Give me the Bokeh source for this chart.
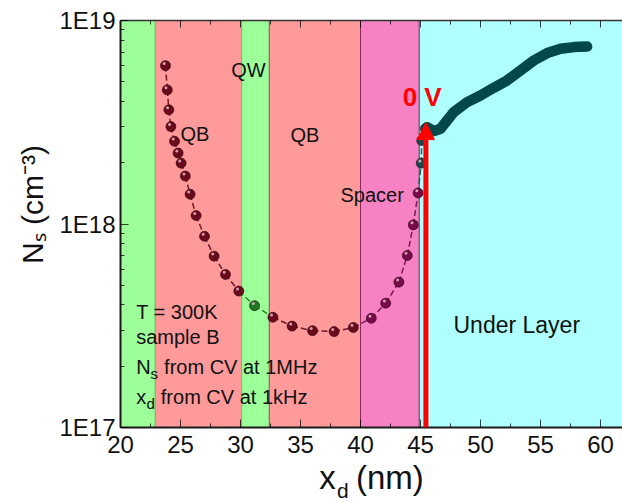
import math
from bokeh.plotting import figure
from bokeh.models import (Range1d, FixedTicker, LinearAxis, Label, Arrow, NormalHead,
                          CustomJSTickFormatter)
from bokeh.embed import file_html
from bokeh.resources import INLINE

# ---------------- data ----------------
region_names = ["barrier", "QB", "QW", "QB", "Spacer", "Under Layer"]
region_start = [19.0, 22.9, 30.1, 32.4, 40.0, 44.9]
region_end = [22.9, 30.1, 32.4, 40.0, 44.9, 63.0]

# C-V profile points (depletion depth nm, carrier density cm^-3)
xd_cv = [23.75, 23.9, 24.03, 24.2, 24.5, 24.8, 25.05, 25.4, 25.8, 26.3, 27.0, 27.8,
         28.75, 29.86, 31.17, 32.7, 34.3, 36.0, 37.8, 39.4, 40.9, 42.1, 43.2, 43.9,
         44.4, 44.8, 45.06, 45.1, 45.4]
ns_cv = [6.0e18, 4.56e18, 3.64e18, 3.01e18, 2.55e18, 2.23e18, 1.99e18, 1.72e18,
         1.40e18, 1.10e18, 8.7e17, 6.95e17, 5.65e17, 4.68e17, 3.97e17, 3.48e17,
         3.15e17, 2.99e17, 2.96e17, 3.10e17, 3.44e17, 4.08e17, 5.18e17, 7.0e17,
         9.9e17, 1.42e18, 1.99e18, 2.57e18, 2.94e18]

# dense profile in the under layer
xd_ul = [45.56, 46.11, 46.67, 47.22, 47.78, 48.89, 50.0, 51.1, 52.2, 53.33, 54.44,
         55.56, 56.67, 57.78, 58.89]
ns_ul = [2.99e18, 2.86e18, 2.94e18, 3.23e18, 3.55e18, 3.97e18, 4.28e18, 4.67e18,
         5.07e18, 5.68e18, 6.36e18, 6.92e18, 7.26e18, 7.40e18, 7.45e18]

arrow_xd = 45.45
arrow_ns = 3.15e18

x_ticks = [20, 25, 30, 35, 40, 45, 50, 55, 60]
x_minor = [22.5, 27.5, 32.5, 37.5, 42.5, 47.5, 52.5, 57.5, 62.5]
y_ticks = [1e17, 1e18, 1e19]
y_minor = [k * 10.0 ** e for e in (17, 18) for k in range(2, 10)]

# ---------------- styles ----------------
region_fill = ["#9cff99", "#ff9a9a", "#9cff99", "#ff9a9a", "#f682c3", "#b0ffff"]
region_edge = ["#5cc95c", "#5cc95c", "#5cc95c", "#b04a6a", "#8a2a5a", "#2f6f70"]
pt_color = ["#6a0a1c", "#6a0a1c", "#1f7a22", "#6a0a1c", "#780a4c", "#174c4e"]
ln_color = ["#6a1a2c", "#6a1a2c", "#2a8a2a", "#6a1a2c", "#7a1a58", "#1f5a5a"]

FONT = "Liberation Sans"
W, H = 622, 502
FL, FT, FB = 120, 20, 427   # frame left / top / bottom in pixels
MID = 0.35                  # middle of text box above the baseline, in em


def region_of(x):
    for i, (a, b) in enumerate(zip(region_start, region_end)):
        if a <= x < b:
            return i
    return len(region_start) - 1


# pixel -> data helpers (text placement only)
def dx(px):
    return 20 + (px - FL) / 12.0


def dy(py):
    return 10 ** (19 - (py - FT) * 2.0 / (FB - FT))


p = figure(width=W, height=H, x_range=Range1d(20, dx(W)), y_range=Range1d(1e17, 1e19),
           y_axis_type="log", output_backend="svg", toolbar_location=None,
           min_border_left=FL, min_border_right=0, min_border_top=FT,
           min_border_bottom=H - FB)
p.outline_line_color = None
p.grid.visible = False
p.background_fill_color = "white"
p.border_fill_color = "white"

# regions
p.quad(left=region_start, right=region_end, bottom=[1e16] * len(region_start),
       top=[1e20] * len(region_start), fill_color=region_fill, line_color=region_edge,
       line_width=1)

# dashed connecting line, coloured per region
segs_x, segs_y, segs_c = [], [], []
for i in range(len(xd_cv) - 1):
    segs_x.append([xd_cv[i], xd_cv[i + 1]])
    segs_y.append([ns_cv[i], ns_cv[i + 1]])
    segs_c.append(ln_color[region_of(0.5 * (xd_cv[i] + xd_cv[i + 1]))])
p.multi_line(xs=segs_x, ys=segs_y, line_color=segs_c, line_width=1.5, line_dash="6 3")

# spheres
cols = [pt_color[region_of(x)] for x in xd_cv]
p.scatter(x=xd_cv, y=ns_cv, size=10, fill_color=cols, line_color="#2a0008", line_width=0.6)
hx = [x - 0.11 for x in xd_cv]
hy = [y * 1.025 for y in ns_cv]
p.scatter(x=hx, y=hy, size=3, fill_color="#e6b8c0", line_color=None, fill_alpha=0.85)

# dense under-layer profile
p.line(x=xd_ul, y=ns_ul, line_width=10.5, line_color="#034848", line_cap="round",
       line_join="round")

# axes
xt = FixedTicker(ticks=x_ticks, minor_ticks=x_minor)
yt = FixedTicker(ticks=y_ticks, minor_ticks=y_minor)
p.xaxis.ticker = xt
p.yaxis.ticker = yt
p.yaxis.formatter = CustomJSTickFormatter(code="return '1E' + Math.round(Math.log10(tick));")

for ax in (p.xaxis[0], p.yaxis[0]):
    ax.axis_line_color = "#1a1a1a"
    ax.axis_line_width = 2
    ax.major_tick_in = 8
    ax.major_tick_out = 0
    ax.minor_tick_in = 4
    ax.minor_tick_out = 0
    ax.major_tick_line_color = "black"
    ax.major_tick_line_alpha = 0.75
    ax.minor_tick_line_color = "black"
    ax.minor_tick_line_alpha = 0.75
    ax.major_label_text_font = FONT
    ax.major_label_text_font_size = "24px"
    ax.major_label_text_color = "#111111"
p.xaxis.major_label_standoff = 8
p.yaxis.major_label_standoff = 5

# x axis title: x_d (nm) -- gap left for the subscript, drawn as its own label
p.xaxis.axis_label = "x\u2004 (nm)"
p.xaxis.axis_label_text_font = FONT
p.xaxis.axis_label_text_font_size = "33px"
p.xaxis.axis_label_text_font_style = "normal"
p.xaxis.axis_label_text_color = "#111111"
p.xaxis.axis_label_standoff = 3

top = LinearAxis(ticker=xt, formatter=CustomJSTickFormatter(code="return '';"),
                 major_label_text_font_size="1px", major_label_standoff=0,
                 axis_line_color="#333333", axis_line_width=1.5, major_tick_in=7,
                 major_tick_out=0, minor_tick_in=4, minor_tick_out=0,
                 major_tick_line_color="black", major_tick_line_alpha=0.75,
                 minor_tick_line_color="black", minor_tick_line_alpha=0.75)
p.add_layout(top, "above")


def lab(text, px, py, size, align="left", bold=False, color="#111111"):
    # (px, py) = start / centre of the text on its baseline, in pixels
    p.add_layout(Label(x=dx(px), y=dy(py - MID * size), text=text, text_font=FONT,
                       text_font_size=f"{size}px", text_align=align,
                       text_baseline="middle", text_color=color,
                       text_font_style="bold" if bold else "normal"))


def side_lab(text, px, py, size, angle=0.0, align="left", side="left"):
    # label in a side panel (not clipped to the frame), placed in canvas pixels
    p.add_layout(Label(x=px, y=py, x_units="canvas", y_units="canvas", text=text,
                       text_font=FONT, text_font_size=f"{size}px", text_align=align,
                       text_baseline="middle", angle=angle, text_color="#111111"),
                 side)


# region labels
lab("QW", 248, 76, 20, align="center")
lab("QB", 180, 140, 20)
lab("QB", 290, 141.7, 20)
lab("Spacer", 340, 201.7, 20)
lab("Under Layer", 453, 333, 23)
lab("0 V", 421.7, 106, 26, align="center", bold=True, color="#ff0000")

# annotation block
lab("T = 300K", 135.7, 318, 20)
lab("sample B", 135.7, 343.3, 20)
lab("N", 135.7, 373.3, 20)
lab("s", 150.0, 378.5, 15)
lab("from CV at 1MHz", 163.6, 373.3, 20)
lab("x", 135.7, 403.3, 20)
lab("d", 146.0, 408.5, 15)
lab("from CV at 1kHz", 160.3, 403.3, 20)

# subscript d of the x axis title
side_lab("d", 336.5, 497 - MID * 21, 21)
# y axis title  N_s (cm^-3), rotated, centred
side_lab("N\u209b (cm\u207b\u00b3)", 32, 204, 30, angle=math.pi / 2, align="center")

p.add_layout(Arrow(end=NormalHead(size=17, fill_color="#ff0000", line_color="#ff0000"),
                   x_start=arrow_xd, y_start=1e17, x_end=arrow_xd, y_end=arrow_ns,
                   line_color="#ff0000", line_width=5))

open("out.html", "w").write(file_html(p, INLINE))
